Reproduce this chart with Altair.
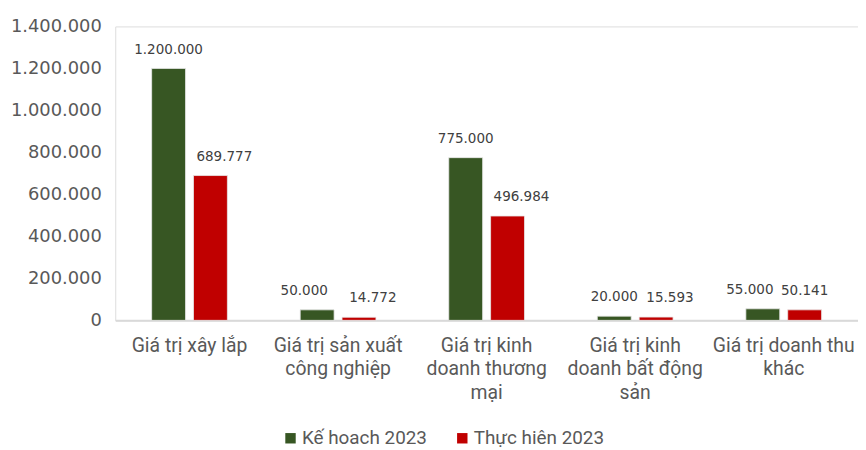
import altair as alt
import pandas as pd

categories = ["Giá trị xây lắp", "Giá trị sản xuất|công nghiệp", "Giá trị kinh|doanh thương|mại",
              "Giá trị kinh|doanh bất động|sản", "Giá trị doanh thu|khác"]
series = ["Kế hoach 2023", "Thực hiên 2023"]
plan = [1200000, 50000, 775000, 20000, 55000]
actual = [689777, 14772, 496984, 15593, 50141]
colors = ["#375623", "#C00000"]

rows = []
for c, p, a in zip(categories, plan, actual):
    rows.append({"cat": c, "series": series[0], "value": p})
    rows.append({"cat": c, "series": series[1], "value": a})
df = pd.DataFrame(rows)
df["label"] = df["value"].map(lambda v: f"{v:,}".replace(",", "."))

narrow = "Roboto, Liberation Sans, sans-serif"
num = "DejaVu Sans, Verdana, sans-serif"

x = alt.X("cat:N", sort=categories, title=None,
          scale=alt.Scale(paddingInner=0, paddingOuter=0),
          axis=alt.Axis(labelAngle=0, labelExpr="split(datum.label, '|')", labelFont=narrow,
                        labelFontSize=19.5, labelColor="#595959", labelLineHeight=24,
                        labelPadding=16, ticks=False, domainColor="#D9D9D9", domainWidth=2,
                        labelLimit=200))
xo = alt.XOffset("series:N", sort=series,
                 scale=alt.Scale(paddingInner=0.19, paddingOuter=0.87))
y = alt.Y("value:Q", title=None,
          scale=alt.Scale(domain=[0, 1400000], nice=False),
          axis=alt.Axis(values=[0, 200000, 400000, 600000, 800000, 1000000, 1200000, 1400000],
                        labelExpr="replace(format(datum.value, ','), regexp(',', 'g'), '.')",
                        grid=False, domain=False, ticks=False, labelFont=num, labelFontSize=18,
                        labelColor="#595959", labelPadding=14))

base = alt.Chart(df)
bars = base.mark_bar(stroke="#E8E8E8", strokeWidth=0.8).encode(
    x=x, xOffset=xo, y=y,
    color=alt.Color("series:N", sort=series, title=None,
                    scale=alt.Scale(domain=series, range=colors),
                    legend=alt.Legend(orient="none", legendX=167, legendY=405, direction="horizontal",
                                      symbolType="square", symbolSize=110, symbolStrokeWidth=0,
                                      labelFont=narrow, labelFontSize=19, labelColor="#595959",
                                      columnPadding=26, labelOffset=2)),
)

g = f"datum.series == '{series[0]}'"
r = f"datum.series == '{series[1]}'"
green_left = f"{g} && (datum.cat == '{categories[1]}' || datum.cat == '{categories[4]}')"
red_right = f"{r} && datum.cat != '{categories[4]}'"
plain = f"!({green_left}) && !({red_right})"

def text_layer(cond, dx):
    return base.transform_filter(cond).mark_text(
        dy=-19, dx=dx, baseline="middle", font=num, fontSize=13.6, color="#404040"
    ).encode(x=x, xOffset=xo, y=y, text="label:N")

labels = text_layer(plain, 0) + text_layer(green_left, -13) + text_layer(red_right, 14)

chart = (bars + labels).properties(
    width=748, height=296, padding={"left": 2, "top": 8, "right": 0, "bottom": 0}
).configure_view(stroke=None).configure(background="white")

chart.save("out.html", embed_options={"renderer": "svg", "actions": False})
